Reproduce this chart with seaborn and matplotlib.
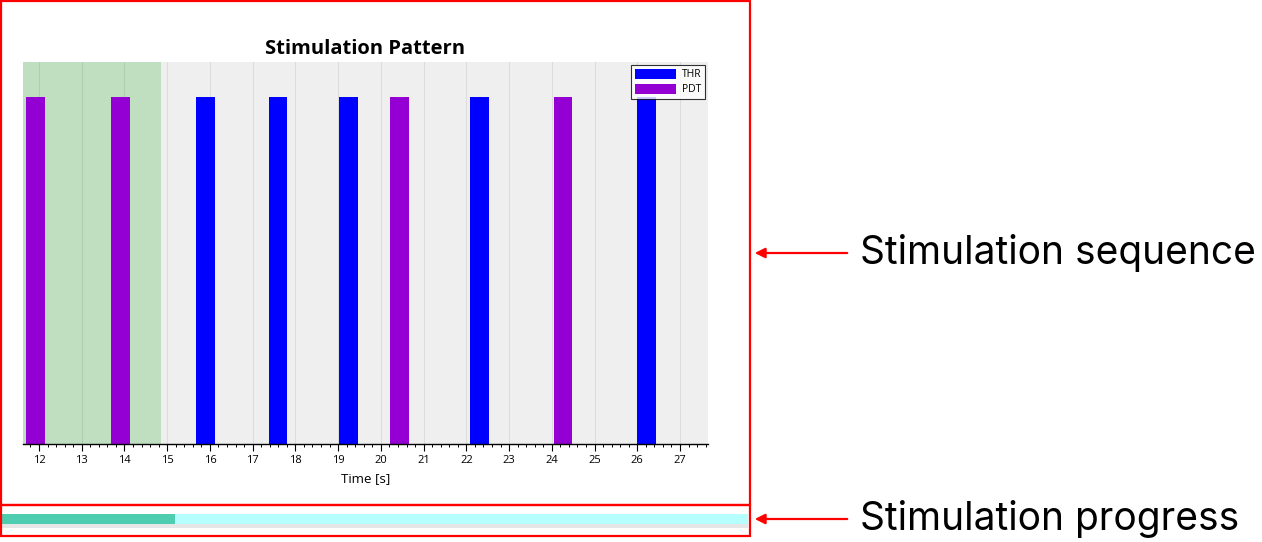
import matplotlib
matplotlib.use('Agg')
import matplotlib.pyplot as plt
import matplotlib.patches as patches
import seaborn as sns
import pandas as pd

# stimulation sequence (onset in s, type)
onsets = [11.70, 13.69, 15.68, 17.38, 19.03, 20.22, 22.09, 24.04, 26.00]
kinds = ['PDT', 'PDT', 'THR', 'THR', 'THR', 'PDT', 'THR', 'PDT', 'THR']
pulse_width = 0.43
done_until = 14.855         # shaded (already delivered) part
progress = 0.232            # fraction of the progress bar
x_ticks = list(range(12, 28))

colors = {'THR': '#0000ff', 'PDT': '#9400d3'}

df = pd.DataFrame({'onset': onsets, 'kind': kinds})

sns.set_style('white')
plt.rcParams['font.family'] = ['Open Sans', 'DejaVu Sans']
plt.rcParams['text.color'] = 'black'
plt.rcParams['axes.labelcolor'] = 'black'
plt.rcParams['xtick.color'] = 'black'

W, H = 1262, 542
fig = plt.figure(figsize=(W / 100, H / 100), dpi=100)


def fx(px):
    return px / W


def fy(py):
    return 1 - py / H


# main chart
ax = fig.add_axes([fx(23), fy(444), fx(708) - fx(23), fy(62) - fy(444)])
ax.set_facecolor('#efefef')
ax.set_xlim(11.626, 27.655)
ax.set_ylim(0, 1.1)
ax.axvspan(ax.get_xlim()[0], done_until, color='#c0dfc0', zorder=0.2, lw=0)
for k in ['THR', 'PDT']:
    sub = df[df['kind'] == k]
    ax.bar(sub['onset'], 1.0, width=pulse_width, align='edge',
           color=colors[k], label=k, zorder=2, lw=0)

ax.set_xticks(x_ticks)
ax.set_xticks([t / 5 for t in range(59, 139)], minor=True)
ax.tick_params(axis='x', which='major', length=5, width=0.8, labelsize=8,
               color='black', labelcolor='black', pad=3)
ax.tick_params(axis='x', which='minor', length=2.5, width=0.7, color='black')
ax.tick_params(axis='x', bottom=True, which='both', direction='out')
ax.set_yticks([])
ax.grid(axis='x', color='black', alpha=0.08, lw=0.8)
ax.set_axisbelow(True)
for s in ['top', 'right', 'left']:
    ax.spines[s].set_visible(False)
ax.spines['bottom'].set_color('black')
ax.spines['bottom'].set_linewidth(1.0)
ax.set_xlabel('Time [s]', fontsize=9.5, labelpad=4, color='black')
ax.set_title('Stimulation Pattern', fontsize=14.5, fontweight='bold', pad=6,
             color='black')
leg = ax.legend(loc='upper right', fontsize=7.5, frameon=True, fancybox=False,
                handlelength=4.0, handleheight=1.1, borderpad=0.35,
                labelspacing=0.35, handletextpad=0.5, borderaxespad=0.3)
leg.get_frame().set_edgecolor('black')
leg.get_frame().set_linewidth(0.8)
for t in leg.get_texts():
    t.set_color('black')

# progress bar
fig.add_artist(patches.Rectangle((fx(2), fy(528)), fx(748) - fx(2), fy(524) - fy(528),
                                 transform=fig.transFigure, color='#e6e6e6', lw=0))
pax = fig.add_axes([fx(2), fy(524), fx(748) - fx(2), fy(514) - fy(524)])
prog = pd.DataFrame({'y': ['p', 'p'], 'x': [1.0, progress]})
sns.barplot(data=prog.iloc[[0]], x='x', y='y', orient='h', color='#b5ffff',
            width=1.0, saturation=1, ax=pax, lw=0)
sns.barplot(data=prog.iloc[[1]], x='x', y='y', orient='h', color='#4ecdb0',
            width=1.0, saturation=1, ax=pax, lw=0)
pax.set_xlim(0, 1)
pax.set_ylim(0.5, -0.5)
pax.axis('off')

# annotation boxes
red = '#ff0000'
for (x0, y0, x1, y1) in [(1, 1, 750, 505), (1, 505, 750, 536)]:
    fig.add_artist(patches.Rectangle((fx(x0), fy(y1)), fx(x1) - fx(x0),
                                     fy(y0) - fy(y1), transform=fig.transFigure,
                                     fill=False, edgecolor=red, lw=1.6))

for ypix, txt in [(253, 'Stimulation sequence'), (519, 'Stimulation progress')]:
    fig.add_artist(patches.FancyArrowPatch((fx(850), fy(ypix)), (fx(752), fy(ypix)),
                                           transform=fig.transFigure,
                                           arrowstyle='-|>,head_length=6,head_width=3',
                                           color=red, lw=1.6))
    fig.text(fx(860), fy(ypix), txt, fontsize=28, va='center', ha='left',
             color='black', family=['Inter', 'DejaVu Sans'])

fig.savefig('out.png', dpi=100)
